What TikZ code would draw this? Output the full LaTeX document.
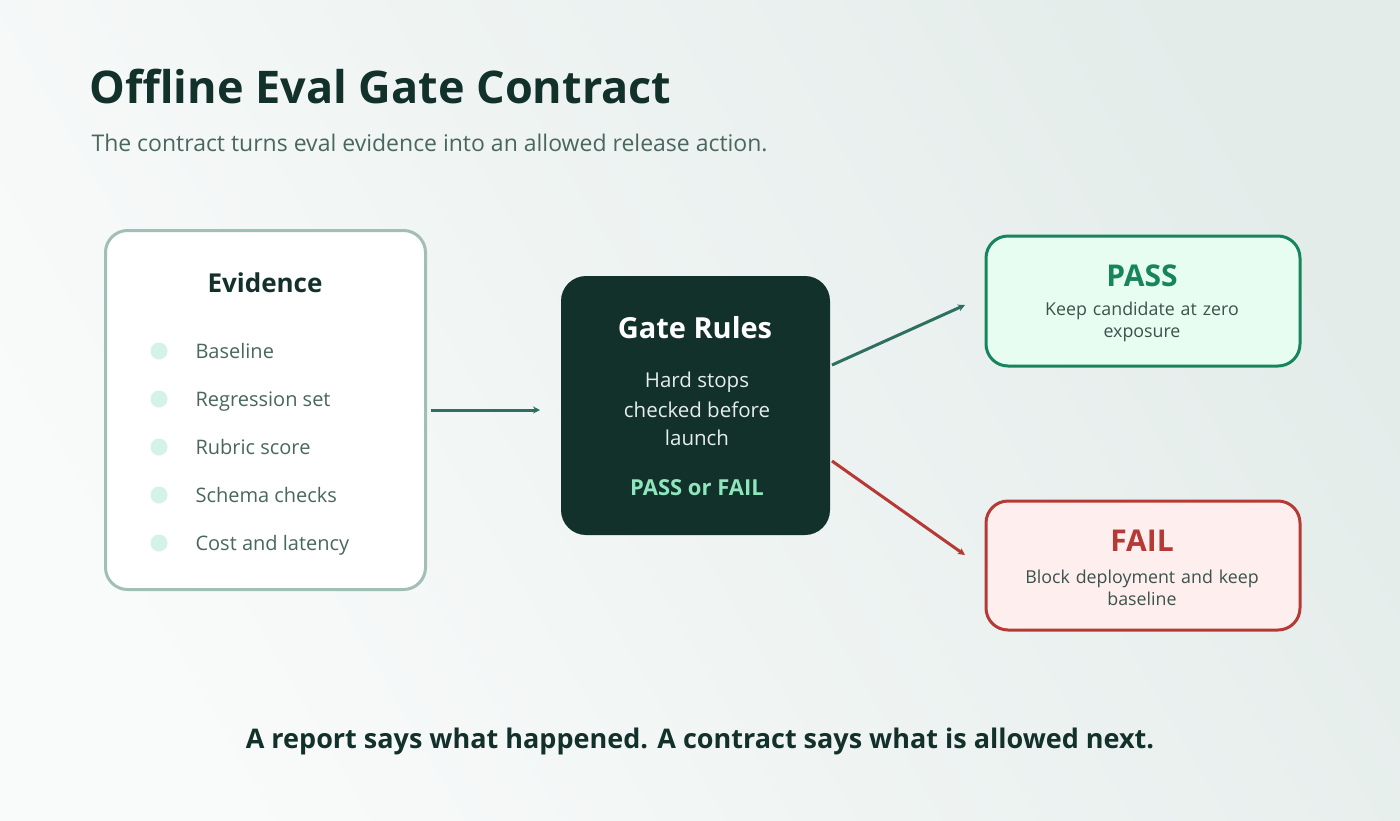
\documentclass[tikz,border=0pt]{standalone}
\usepackage{fontspec}
\setmainfont{Open Sans}
\usetikzlibrary{arrows.meta}
\definecolor{dark}{HTML}{13312B}
\definecolor{sub}{HTML}{4A6660}
\definecolor{gline}{HTML}{2E7060}
\definecolor{passc}{HTML}{16855E}
\definecolor{failc}{HTML}{B53A36}
\definecolor{bul}{HTML}{D5F2E6}
\definecolor{passf}{HTML}{E8FDF2}
\definecolor{failf}{HTML}{FFEEEE}
\definecolor{mint}{HTML}{8FE6BD}
\begin{document}
\begin{tikzpicture}[x=1pt,y=-1pt,
  fs/.style={font=\fontsize{#1}{#1}\selectfont},
  bfs/.style={font=\fontsize{#1}{#1}\selectfont\bfseries},
  item/.style={anchor=base west,text=sub,fs=20},
  dot/.style={circle,fill=bul,minimum size=17,inner sep=0},
  arr/.style={line width=3,-{Stealth[length=7,width=7]}},
  small/.style={text=sub!80!black,fs=17.8,align=center,text width=280}]
\useasboundingbox (0,0) rectangle (1400,820);
\shade[left color=white!97!gline, right color=gline!13!white, shading angle=120] (0,0) rectangle (1400,820);
\node[anchor=base west,bfs=45,text=dark] (title) at (86,103) {Offline Eval Gate Contract};
\node[anchor=base west,fs=23,text=sub] (subt) at (88,151) {The contract turns eval evidence into an allowed release action.};
% evidence
\node[draw=gline!45,line width=3,fill=white,rounded corners=22,minimum width=320,minimum height=359] (ev) at (265.5,410) {};
\node[bfs=26,text=dark] (evt) at (265,283) {Evidence};
\foreach \y/\t [count=\i] in {351/Baseline,399/Regression set,447/Rubric score,495/Schema checks,543/Cost and latency}{
  \node[dot] (d\i) at (159,\y) {};
  \node[item] (l\i) at (192,\y+7) {\t};
}
% gate
\node[fill=dark,rounded corners=25,minimum width=269,minimum height=259] (gate) at (695.5,405.5) {};
\node[bfs=29,text=white] (gt) at (695,328) {Gate Rules};
\node[fs=20.5,text=white!88!gline,align=center] (gd) at (697,409) {Hard stops\\[8pt]checked before\\[8pt]launch};
\node[bfs=22,text=mint] (gp) at (697,488) {PASS or FAIL};
% pass
\node[draw=passc,line width=3,fill=passf,rounded corners=22,minimum width=314,minimum height=130] (pass) at (1143,301) {};
\node[bfs=30,text=passc] (pt) at (1142,276) {PASS};
\node[small] (pd) at (1142,322) {Keep candidate at zero\\[4pt]exposure};
% fail
\node[draw=failc,line width=3,fill=failf,rounded corners=22,minimum width=314,minimum height=129] (fail) at (1143,565.5) {};
\node[bfs=30,text=failc] (ft) at (1142,541) {FAIL};
\node[small] (fd) at (1142,588) {Block deployment and keep\\[4pt]baseline};
% arrows
\coordinate (a1) at (540,410);
\draw[arr,gline] (ev.east)++(4,0) -- (a1);
\coordinate (g1) at (832,365); \coordinate (p1) at (965,305);
\coordinate (g2) at (832,461); \coordinate (f1) at (965,555);
\draw[arr,gline] (g1) -- (p1);
\draw[arr,failc] (g2) -- (f1);
\node[bfs=27,text=dark] (foot) at (700,741) {A report says what happened. A contract says what is allowed next.};
\end{tikzpicture}
\end{document}
